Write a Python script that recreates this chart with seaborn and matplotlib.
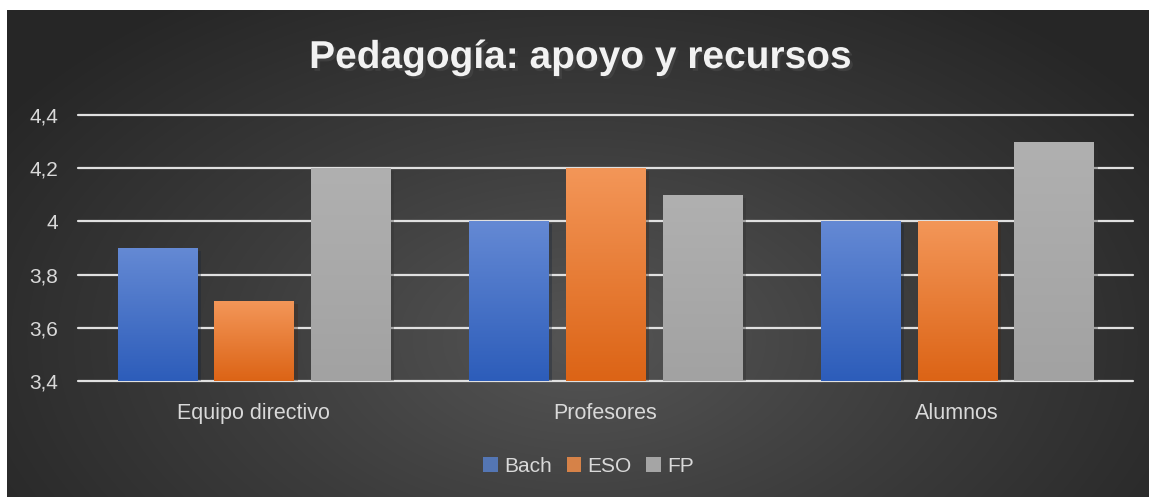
import numpy as np
import pandas as pd
import matplotlib
matplotlib.use("Agg")
import matplotlib.pyplot as plt
import matplotlib.patheffects as pe
from matplotlib.colors import LinearSegmentedColormap
import seaborn as sns

# data
categories = ["Equipo directivo", "Profesores", "Alumnos"]
series = ["Bach", "ESO", "FP"]
bach = [3.9, 4.0, 4.0]
eso = [3.7, 4.2, 4.0]
fp = [4.2, 4.1, 4.3]
yticks = [3.4, 3.6, 3.8, 4.0, 4.2, 4.4]
ytick_labels = ["3,4", "3,6", "3,8", "4", "4,2", "4,4"]

df = pd.DataFrame({
    "grupo": categories * 3,
    "serie": ["Bach"] * 3 + ["ESO"] * 3 + ["FP"] * 3,
    "valor": bach + eso + fp,
})

sns.set_theme(style="white")
plt.rcParams["font.family"] = ["Liberation Sans", "DejaVu Sans"]

colors = {"Bach": "#4472C4", "ESO": "#ED7D31", "FP": "#A5A5A5"}
grad = {"Bach": ("#6489d4", "#2d5dba"),
        "ESO": ("#f39658", "#dc6416"),
        "FP": ("#b0b0b0", "#a2a2a2")}

W, H = 1149, 497
fig = plt.figure(figsize=(W / 100, H / 100), dpi=100)
fig.patch.set_facecolor("white")

# dark radial background panel
bg = fig.add_axes([7 / W, 0, (W - 7) / W, (H - 10) / H])
yy, xx = np.mgrid[0:487, 0:1142]
r = np.sqrt(((xx - 575) / 700) ** 2 + ((yy - 330) / 420) ** 2)
r = np.clip(r, 0, 1)
bg_cmap = LinearSegmentedColormap.from_list("bg", ["#555555", "#3c3c3c", "#262626"])
bg.imshow(r, cmap=bg_cmap, aspect="auto", origin="upper", vmin=0, vmax=1)
bg.set_axis_off()

ax = fig.add_axes([78 / W, 1 - 381 / H, (1133 - 78) / W, (381 - 115) / H])
ax.set_facecolor("none")
sns.barplot(data=df, x="grupo", y="valor", hue="serie", order=categories,
            hue_order=series, palette=colors, width=0.825, gap=0.183,
            linewidth=0, ax=ax, legend=True, zorder=3)

ax.set_ylim(3.4, 4.4)
ax.set_yticks(yticks)
ax.set_yticklabels(ytick_labels)
ax.set_xlim(-0.5, 2.5)
ax.set_xlabel("")
ax.set_ylabel("")
for s in ax.spines.values():
    s.set_visible(False)
ax.tick_params(axis="y", length=0, labelsize=15, labelcolor="#d9d9d9", pad=14)
ax.tick_params(axis="x", length=0, labelsize=15.5, labelcolor="#d9d9d9", pad=16)

for y in yticks:
    ax.axhline(y, color="#e0e0e0", lw=1.6, zorder=1, clip_on=False)

# gradient fill on bars
n = len(categories)
for i, patch in enumerate(list(ax.patches)[:n * len(series)]):
    s = series[i // n]
    x0, y0 = patch.get_x(), 3.4
    w = patch.get_width()
    h = patch.get_y() + patch.get_height()
    cm = LinearSegmentedColormap.from_list("g", [grad[s][1], grad[s][0]])
    img = np.linspace(0, 1, 100).reshape(-1, 1)
    im = ax.imshow(img, cmap=cm, origin="lower", aspect="auto",
                   extent=(x0, x0 + w, y0, h), zorder=3.5)
    im.set_clip_path(patch)
    patch.set_path_effects([pe.SimplePatchShadow(offset=(3, -2), alpha=0.35), pe.Normal()])
ax.set_xlim(-0.5, 2.5)
ax.set_ylim(3.4, 4.4)

leg = ax.legend(loc="center",
                bbox_to_anchor=(0.484, (1 - 466 / H - (1 - 381 / H)) / ((381 - 115) / H)),
                ncol=3, frameon=False, fontsize=15, handlelength=0.7, handleheight=0.7,
                handletextpad=0.3, columnspacing=0.7, labelcolor="#d9d9d9")
for hnd in leg.legend_handles:
    hnd.set_linewidth(0)

fig.text(0.505, 1 - 58 / H, "Pedagogía: apoyo y recursos", ha="center", va="center",
         fontsize=28, fontweight="bold", color="#f2f2f2",
         path_effects=[pe.SimplePatchShadow(offset=(2, -2), alpha=0.6), pe.Normal()])

fig.savefig("out.png", dpi=100)
